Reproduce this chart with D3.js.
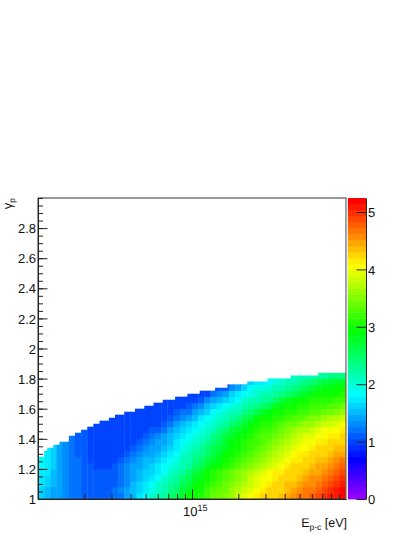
<!DOCTYPE html>
<html>
<head>
<meta charset="utf-8">
<script src="https://cdn.jsdelivr.net/npm/d3@7/dist/d3.min.js"></script>
<style>
html,body{margin:0;padding:0;background:#fff;}
svg{display:block;}
text{font-family:"Liberation Sans",Arial,sans-serif;fill:#111;text-rendering:geometricPrecision;}
</style>
</head>
<body>
<div id="chart"></div>
<script>
const _ = null;
// map values, one list per gamma bin (bottom to top), 50 energy bins per list
const row00=[1.6,1.5,1.4,1.4,1.3,1.2,1.2,1.1,1.1,1.1,1.1,1.1,1.2,1.2,1.4,1.5,1.7,1.8,2.0,2.1,2.3,2.5,2.6,2.8,3.0,3.0,3.1,3.2,3.4,3.4,3.5,3.6,3.8,3.9,4.0,4.1,4.2,4.2,4.3,4.4,4.5,4.6,4.7,4.7,4.8,4.9,5.0,5.1,5.1,5.2];
const row01=[1.6,1.5,1.4,1.4,1.3,1.2,1.2,1.1,1.1,1.1,1.1,1.1,1.2,1.3,1.4,1.5,1.6,1.7,1.9,2.0,2.2,2.4,2.5,2.7,2.8,3.0,3.0,3.2,3.3,3.4,3.4,3.6,3.7,3.8,3.9,4.0,4.1,4.2,4.3,4.3,4.4,4.5,4.6,4.7,4.7,4.8,4.9,5.0,5.1,5.2];
const row02=[1.7,1.6,1.5,1.4,1.3,1.2,1.2,1.1,1.1,1.1,1.1,1.1,1.1,1.2,1.3,1.5,1.6,1.7,1.8,2.0,2.1,2.3,2.4,2.6,2.7,2.9,3.0,3.1,3.2,3.3,3.4,3.5,3.6,3.7,3.8,3.9,4.0,4.1,4.2,4.3,4.4,4.4,4.5,4.6,4.6,4.7,4.8,4.9,5.0,5.1];
const row03=[1.7,1.6,1.5,1.4,1.3,1.2,1.2,1.1,1.1,1.1,1.1,1.1,1.1,1.2,1.3,1.4,1.5,1.6,1.7,1.8,2.0,2.2,2.3,2.5,2.6,2.8,2.9,3.0,3.1,3.2,3.3,3.4,3.5,3.6,3.8,3.9,4.0,4.0,4.1,4.2,4.3,4.3,4.4,4.5,4.6,4.6,4.7,4.8,4.9,5.0];
const row04=[1.7,1.7,1.5,1.4,1.3,1.2,1.2,1.1,1.1,1.1,1.1,1.1,1.1,1.2,1.3,1.4,1.5,1.6,1.6,1.7,1.8,2.0,2.2,2.3,2.5,2.7,2.8,3.0,3.1,3.2,3.3,3.4,3.5,3.6,3.7,3.8,3.9,4.0,4.1,4.1,4.2,4.3,4.3,4.4,4.5,4.5,4.6,4.7,4.8,4.9];
const row05=[1.8,1.7,1.6,1.4,1.3,1.2,1.2,1.1,1.1,1.0,1.0,1.0,1.1,1.2,1.3,1.4,1.4,1.5,1.6,1.7,1.8,1.9,2.0,2.2,2.3,2.5,2.6,2.8,2.9,3.0,3.1,3.2,3.3,3.4,3.5,3.6,3.7,3.8,3.9,4.0,4.1,4.2,4.2,4.3,4.4,4.5,4.5,4.6,4.7,4.8];
const row06=[1.8,1.7,1.6,1.4,1.3,1.2,1.2,1.1,1.0,1.0,1.0,1.0,1.0,1.1,1.2,1.3,1.4,1.5,1.5,1.6,1.7,1.8,1.9,2.1,2.2,2.4,2.5,2.7,2.8,2.9,3.0,3.1,3.2,3.3,3.4,3.5,3.6,3.7,3.8,3.9,4.0,4.1,4.1,4.2,4.3,4.4,4.4,4.5,4.6,4.7];
const row07=[1.7,1.7,1.6,1.4,1.3,1.2,1.1,1.1,1.0,1.0,1.0,1.0,1.0,1.0,1.1,1.2,1.3,1.4,1.4,1.5,1.6,1.7,1.8,2.0,2.1,2.3,2.4,2.5,2.7,2.8,3.0,3.0,3.1,3.2,3.3,3.4,3.5,3.6,3.7,3.8,3.9,4.0,4.1,4.1,4.2,4.3,4.3,4.4,4.5,4.5];
const row08=[_,1.7,1.6,1.4,1.3,1.2,1.1,1.1,1.0,1.0,1.0,1.0,1.0,1.0,1.0,1.1,1.2,1.3,1.4,1.4,1.5,1.6,1.7,1.9,2.0,2.1,2.3,2.5,2.6,2.7,2.8,3.0,3.0,3.1,3.2,3.3,3.4,3.5,3.6,3.7,3.8,3.9,4.0,4.0,4.1,4.2,4.2,4.3,4.4,4.4];
const row09=[_,_,1.6,1.4,1.3,1.2,1.1,1.1,1.0,1.0,1.0,1.0,1.0,1.0,1.0,1.0,1.1,1.2,1.3,1.4,1.4,1.5,1.7,1.8,1.9,2.0,2.2,2.3,2.5,2.6,2.8,2.9,3.0,3.1,3.2,3.2,3.3,3.4,3.5,3.6,3.7,3.8,3.9,4.0,4.0,4.1,4.1,4.2,4.2,4.3];
const row10=[_,_,_,_,_,1.2,1.1,1.1,1.0,1.0,1.0,1.0,1.0,1.0,1.0,1.0,1.0,1.1,1.2,1.3,1.4,1.5,1.6,1.7,1.8,1.9,2.0,2.2,2.4,2.5,2.7,2.8,2.9,3.0,3.1,3.2,3.3,3.3,3.4,3.5,3.6,3.7,3.8,3.9,3.9,4.0,4.0,4.1,4.1,4.2];
const row11=[_,_,_,_,_,_,1.2,1.1,1.0,1.0,1.0,1.0,1.0,1.0,1.0,1.0,1.0,1.0,1.1,1.1,1.2,1.4,1.5,1.6,1.7,1.8,1.9,2.0,2.2,2.4,2.5,2.7,2.8,2.9,3.0,3.1,3.2,3.2,3.3,3.4,3.5,3.6,3.7,3.7,3.8,3.9,4.0,4.0,4.0,4.1];
const row12=[_,_,_,_,_,_,_,_,1.0,1.0,1.0,1.0,1.0,1.0,1.0,1.0,1.0,1.0,1.0,1.0,1.1,1.2,1.4,1.5,1.6,1.7,1.8,1.9,2.0,2.2,2.3,2.5,2.6,2.8,2.9,3.0,3.1,3.1,3.2,3.3,3.4,3.4,3.5,3.6,3.6,3.7,3.8,3.8,3.9,4.0];
const row13=[_,_,_,_,_,_,_,_,_,_,1.0,1.0,1.0,1.0,1.0,1.0,1.0,1.0,1.0,1.0,1.0,1.1,1.2,1.3,1.4,1.5,1.7,1.8,1.9,2.0,2.1,2.3,2.4,2.6,2.7,2.9,3.0,3.0,3.1,3.1,3.2,3.3,3.3,3.4,3.5,3.5,3.6,3.7,3.7,3.8];
const row14=[_,_,_,_,_,_,_,_,_,_,_,_,1.0,1.0,1.0,1.0,1.0,1.0,1.0,1.0,1.0,1.0,1.1,1.2,1.2,1.4,1.5,1.6,1.8,1.9,2.0,2.1,2.2,2.4,2.5,2.6,2.8,2.9,3.0,3.0,3.1,3.1,3.2,3.2,3.3,3.3,3.4,3.4,3.5,3.6];
const row15=[_,_,_,_,_,_,_,_,_,_,_,_,_,_,_,1.0,1.0,1.0,1.0,1.0,1.0,1.0,1.0,1.0,1.1,1.2,1.3,1.5,1.6,1.7,1.8,1.9,2.0,2.2,2.3,2.4,2.5,2.6,2.8,2.9,3.0,3.0,3.1,3.1,3.2,3.2,3.2,3.3,3.3,3.4];
const row16=[_,_,_,_,_,_,_,_,_,_,_,_,_,_,_,_,_,_,1.0,1.0,1.0,1.0,1.0,1.0,1.0,1.0,1.1,1.3,1.4,1.5,1.6,1.7,1.8,2.0,2.1,2.2,2.3,2.4,2.5,2.7,2.8,2.9,3.0,3.0,3.1,3.1,3.1,3.1,3.2,3.2];
const row17=[_,_,_,_,_,_,_,_,_,_,_,_,_,_,_,_,_,_,_,_,_,_,1.0,1.0,1.0,1.0,1.0,1.0,1.2,1.3,1.4,1.6,1.7,1.8,1.9,2.0,2.1,2.2,2.3,2.4,2.5,2.6,2.7,2.8,2.9,3.0,3.0,3.0,3.0,3.1];
const row18=[_,_,_,_,_,_,_,_,_,_,_,_,_,_,_,_,_,_,_,_,_,_,_,_,_,_,1.0,1.0,1.0,1.1,1.1,1.3,1.4,1.6,1.8,1.9,1.9,2.0,2.1,2.2,2.3,2.4,2.5,2.6,2.7,2.8,2.9,2.9,3.0,3.0];
const row19=[_,_,_,_,_,_,_,_,_,_,_,_,_,_,_,_,_,_,_,_,_,_,_,_,_,_,_,_,_,_,1.0,1.2,1.3,1.4,1.6,1.7,1.7,1.8,1.9,2.0,2.1,2.2,2.3,2.4,2.5,2.6,2.7,2.7,2.8,2.8];
const row20=[_,_,_,_,_,_,_,_,_,_,_,_,_,_,_,_,_,_,_,_,_,_,_,_,_,_,_,_,_,_,_,_,_,_,_,_,_,1.8,1.8,1.9,1.9,2.0,2.1,2.1,2.2,2.3,2.3,2.4,2.4,2.4];
const mapRows=[row00,row01,row02,row03,row04,row05,row06,row07,row08,row09,row10,row11,row12,row13,row14,row15,row16,row17,row18,row19,row20];

// upper edge of the filled region: log10(E) where each step starts, and gamma there
const edgeLogE=[14.00,14.04,14.06,14.10,14.14,14.20,14.24,14.28,14.32,14.36,14.40,14.46,14.50,14.56,14.63,14.69,14.75,14.81,14.89,14.97,15.05,15.15,15.23,15.36,15.49,15.64,15.82,16.00];
const edgeGamma=[1.28,1.32,1.34,1.36,1.38,1.42,1.44,1.46,1.48,1.50,1.52,1.54,1.56,1.58,1.60,1.62,1.64,1.66,1.68,1.70,1.72,1.74,1.76,1.78,1.80,1.82,1.84,1.84];

const yMajorTicks=[1,1.2,1.4,1.6,1.8,2,2.2,2.4,2.6,2.8];
const yMinorTicks=d3.range(1,3.0001,0.05);
const xMinorTicks=[2e14,3e14,4e14,5e14,6e14,7e14,8e14,9e14,2e15,3e15,4e15,5e15,6e15,7e15,8e15,9e15];
const xMajorTicks=[1e15];
const zTicks=[0,1,2,3,4,5];
const zMax=5.244, levels=50;

const W=415,H=537;
const margin={left:38,right:346,top:198,bottom:499};
const x=d3.scaleLog().domain([1e14,1e16]).range([margin.left,margin.right]);
const y=d3.scaleLinear().domain([1,3]).range([margin.bottom,margin.top]);
const z=d3.scaleLinear().domain([0,zMax]).range([margin.bottom,margin.top]);
const level=d3.scaleQuantize().domain([0,zMax]).range(d3.range(levels));
const colorOf=l=>d3.hsl(280-(l+1)*5.6,1,0.5).formatRgb();

const svg=d3.select("#chart").append("svg").attr("width",W).attr("height",H);

// stepped clip of the filled region
const edge=edgeLogE.map((e,i)=>[Math.pow(10,e),edgeGamma[i]]);
const stepLine=d3.line().x(d=>x(d[0])).y(d=>y(d[1])).curve(d3.curveStepAfter);
svg.append("clipPath").attr("id","fill").append("path")
  .attr("d",stepLine(edge)+`L${x(1e16)},${y(1)}L${x(1e14)},${y(1)}Z`);

// heat map
const nx=row00.length, dLog=2/nx, dG=0.04;
const cells=[];
mapRows.forEach((r,j)=>r.forEach((v,i)=>{if(v!==null)cells.push({i,j,v});}));
svg.append("g").attr("clip-path","url(#fill)").selectAll("rect").data(cells).join("rect")
  .attr("x",d=>x(Math.pow(10,14+d.i*dLog)))
  .attr("y",d=>y(1+(d.j+1)*dG))
  .attr("width",d=>x(Math.pow(10,14+(d.i+1)*dLog))-x(Math.pow(10,14+d.i*dLog))+0.4)
  .attr("height",d=>y(1+d.j*dG)-y(1+(d.j+1)*dG)+0.4)
  .attr("fill",d=>colorOf(level(d.v)));

// frame
svg.append("rect").attr("x",margin.left).attr("y",margin.top)
  .attr("width",margin.right-margin.left).attr("height",margin.bottom-margin.top)
  .attr("fill","none").attr("stroke","#333").attr("stroke-width",1);
svg.append("line").attr("x1",margin.right+0.5).attr("x2",margin.right+0.5).attr("y1",margin.top).attr("y2",margin.bottom)
  .attr("stroke","#aaa").attr("stroke-width",1.5);

function styleAxis(g,fs){
  g.selectAll("path").attr("stroke","#222");
  g.selectAll("line").attr("stroke","#222");
  g.selectAll("text").attr("font-size",fs).attr("fill","#111");
}

// y axis
const yMin=svg.append("g").attr("transform",`translate(${margin.left},0)`)
  .call(d3.axisLeft(y).tickValues(yMinorTicks).tickSize(-5).tickSizeOuter(0).tickFormat(""));
styleAxis(yMin,12);
const yMaj=svg.append("g").attr("transform",`translate(${margin.left},0)`)
  .call(d3.axisLeft(y).tickValues(yMajorTicks).tickSize(-9.5).tickSizeOuter(0).tickPadding(2).tickFormat(d3.format("")));
yMaj.selectAll("text").attr("x",-2).attr("dy","0.36em");
styleAxis(yMaj,13);

// x axis
const xMin=svg.append("g").attr("transform",`translate(0,${margin.bottom})`)
  .call(d3.axisBottom(x).tickValues(xMinorTicks).tickSize(-5).tickSizeOuter(0).tickFormat(""));
styleAxis(xMin,12);
const xMaj=svg.append("g").attr("transform",`translate(0,${margin.bottom})`)
  .call(d3.axisBottom(x).tickValues(xMajorTicks).tickSize(-9.5).tickSizeOuter(0).tickFormat(""));
styleAxis(xMaj,12);
const t15=svg.append("text").attr("x",x(1e15)-9).attr("y",516).attr("font-size",13);
t15.append("tspan").text("10");
t15.append("tspan").attr("dy",-5).attr("font-size",9).text("15");

// axis titles
const xt=svg.append("text").attr("x",347).attr("y",527).attr("text-anchor","end").attr("font-size",12.5);
xt.append("tspan").text("E");
xt.append("tspan").attr("dy",3).attr("font-size",8.5).text("p-c");
xt.append("tspan").attr("dy",-3).text(" [eV]");
const yt=svg.append("text").attr("transform","translate(12,198) rotate(-90)").attr("text-anchor","end").attr("font-size",13);
yt.append("tspan").text("γ");
yt.append("tspan").attr("dy",3).attr("font-size",8.5).text("p");

// colour scale
const barX=348,barW=18;
svg.append("g").selectAll("rect").data(d3.range(levels)).join("rect")
  .attr("x",barX).attr("width",barW)
  .attr("y",l=>z((l+1)*zMax/levels))
  .attr("height",l=>z(l*zMax/levels)-z((l+1)*zMax/levels)+0.4)
  .attr("fill",l=>colorOf(l));
const zAxis=svg.append("g").attr("transform",`translate(${barX+barW},0)`)
  .call(d3.axisRight(z).tickValues(zTicks).tickSize(-9.5).tickSizeOuter(0).tickPadding(2).tickFormat(d3.format("d")));
zAxis.selectAll("text").attr("x",2).attr("dy","0.36em");
styleAxis(zAxis,13);
</script>
</body>
</html>
